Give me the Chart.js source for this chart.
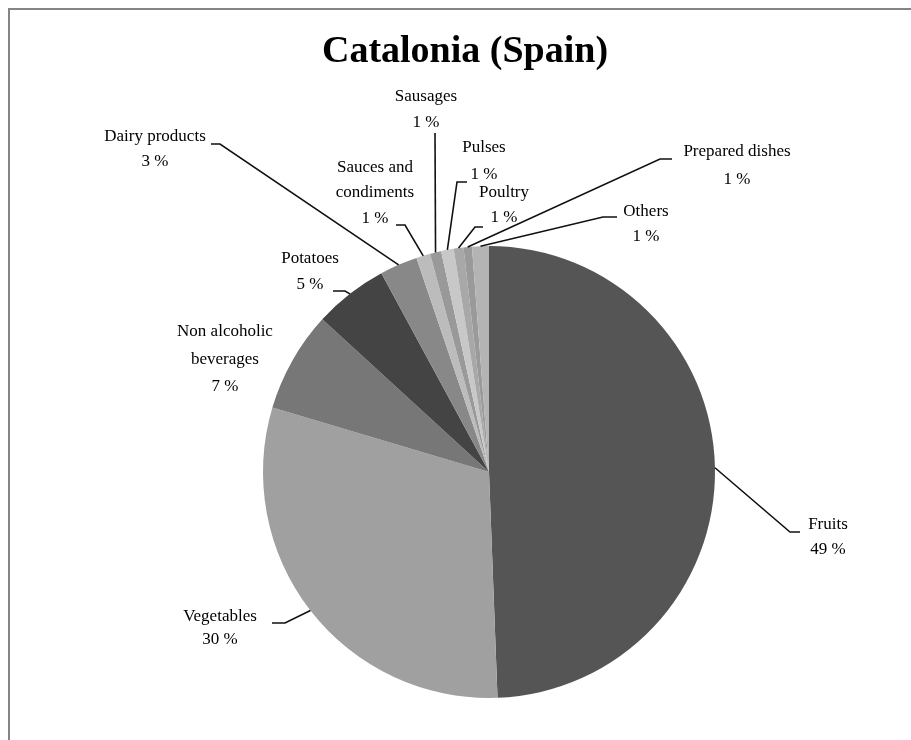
<!DOCTYPE html>
<html>
<head>
<meta charset="utf-8">
<script src="https://cdn.jsdelivr.net/npm/chart.js@4/dist/chart.umd.min.js"></script>
<style>
    body { margin: 0; background: #fff; overflow: hidden; }
    #Frame { position: absolute; left: 8px; top: 8px; width: 1000px; height: 1000px;
             border-top: 2px solid #858585; border-left: 2px solid #858585; }
    #Chart { position: absolute; left: 0; top: 0; }
</style>
</head>
<body>
<div id="Frame"></div>
<canvas id="Chart" width="911" height="740"></canvas>
<script>
// данные диаграммы (доли в %), порядок по часовой стрелке от 12 часов
const categories = ['Fruits', 'Vegetables', ['Non alcoholic', 'beverages'], 'Potatoes', 'Dairy products',
    ['Sauces and', 'condiments'], 'Sausages', 'Pulses', 'Poultry', 'Prepared dishes', 'Others'];
const shares = [49.4, 30.2, 7.2, 5.3, 2.7, 1.0, 0.8, 0.9, 0.7, 0.6, 1.2];
const sliceColors = ['#555555', '#a0a0a0', '#777777', '#444444', '#888888',
    '#bcbcbc', '#999999', '#c8c8c8', '#a8a8a8', '#9a9a9a', '#b4b4b4'];
const chartTitle = 'Catalonia (Spain)';

/**
 * расположение подписей: центр текста, строки по y, излом выноски и конец горизонтального штриха */
const labelLayout = [
    { cx: 828, ys: [525, 550], ex: 790, ey: 532, hx: 800 },
    { cx: 220, ys: [617, 640], ex: 285, ey: 623, hx: 272 },
    { cx: 225, ys: [332, 360, 387], ex: null },
    { cx: 310, ys: [259, 285], ex: 345, ey: 291, hx: 333 },
    { cx: 155, ys: [137, 162], ex: 220, ey: 144, hx: 211 },
    { cx: 375, ys: [168, 193, 219], ex: 405, ey: 225, hx: 396 },
    { cx: 426, ys: [97, 123], ex: 435, ey: 133, hx: 435 },
    { cx: 484, ys: [148, 175], ex: 457, ey: 182, hx: 467 },
    { cx: 504, ys: [193, 218], ex: 475, ey: 227, hx: 483 },
    { cx: 737, ys: [152, 180], ex: 660, ey: 159, hx: 672 },
    { cx: 646, ys: [212, 237], ex: 603, ey: 217, hx: 617 }
];

// плагин рисует заголовок, выноски и подписи в стиле Excel
const excelLabels = {
    id: 'excelLabels',
    afterDraw(chart) {
        const ctx = chart.ctx;
        ctx.save();
        ctx.fillStyle = '#000';
        ctx.textAlign = 'center';
        ctx.textBaseline = 'alphabetic';
        ctx.font = 'bold 38px "Liberation Serif", "Times New Roman", serif';
        ctx.fillText(chartTitle, 465, 62);

        const arcs = chart.getDatasetMeta(0).data;
        ctx.strokeStyle = '#111';
        ctx.lineWidth = 1.6;
        ctx.font = '17px "Liberation Serif", "Times New Roman", serif';
        ctx.textBaseline = 'middle';
        for (var i = 0; i < arcs.length; i++) {
            const lay = labelLayout[i];
            const p = arcs[i].getProps(['x', 'y', 'startAngle', 'endAngle', 'outerRadius'], true);
            const mid = (p.startAngle + p.endAngle) / 2;
            const ax = p.x + Math.cos(mid) * p.outerRadius;
            const ay = p.y + Math.sin(mid) * p.outerRadius;
            if (lay.ex !== null) {
                ctx.beginPath();
                ctx.moveTo(ax, ay);
                ctx.lineTo(lay.ex, lay.ey);
                ctx.lineTo(lay.hx, lay.ey);
                ctx.stroke();
            }
            const name = [].concat(categories[i]);
            const lines = name.concat([Math.round(shares[i]) + ' %']);
            for (var j = 0; j < lines.length; j++) {
                ctx.fillText(lines[j], lay.cx, lay.ys[j]);
            }
        }
        ctx.restore();
    }
};

const data = {
    labels: categories,
    datasets: [{
        data: shares,
        backgroundColor: sliceColors,
        borderWidth: 0
    }]
};

const config = {
    type: 'pie',
    data: data,
    options: {
        responsive: false,
        animation: false,
        layout: {
            padding: { left: 263, right: 196, top: 246, bottom: 42 }
        },
        plugins: {
            legend: { display: false },
            tooltip: { enabled: false },
            title: { display: false }
        }
    },
    plugins: [excelLabels]
};

var myChart = new Chart(document.getElementById('Chart'), config);
</script>
</body>
</html>
